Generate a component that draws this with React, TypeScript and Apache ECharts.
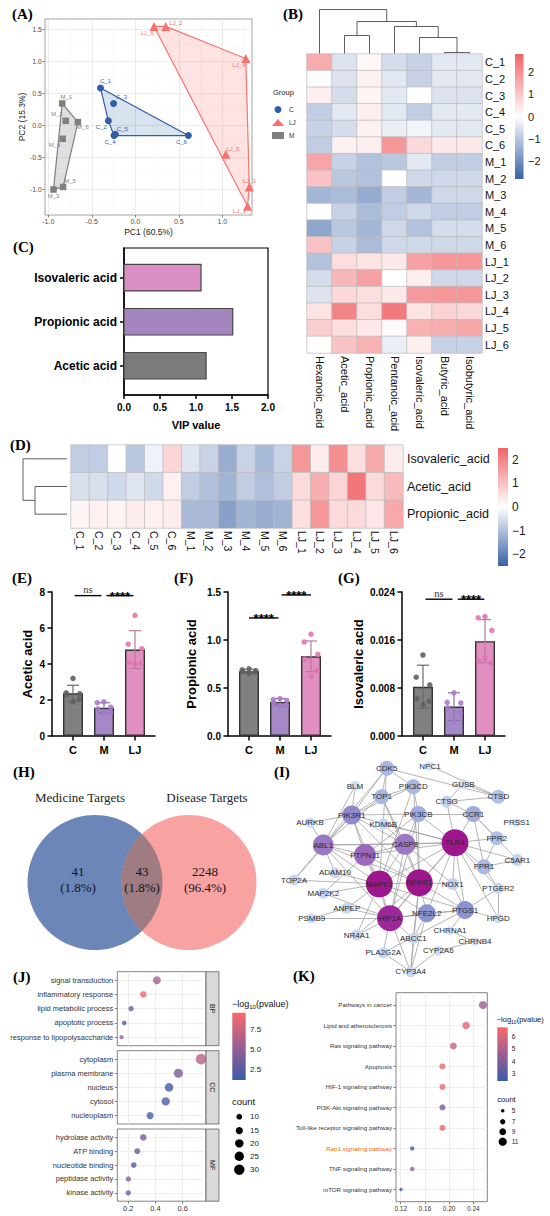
import React, { useEffect, useRef } from 'react';
import * as echarts from 'echarts';

const FONT = 'Liberation Sans';
const SERIF = 'Liberation Serif';

/* ---------------- (A) PCA scores ---------------- */
const pcaNamesC = ['C_1', 'C_2', 'C_3', 'C_4', 'C_5', 'C_6'];
const pcaPC1C = [-0.4, -0.31, -0.25, -0.245, -0.23, 0.61];
const pcaPC2C = [0.58, 0.07, 0.34, -0.16, -0.14, -0.16];
const pcaNamesLJ = ['LJ_1', 'LJ_2', 'LJ_3', 'LJ_4', 'LJ_5', 'LJ_6'];
const pcaPC1LJ = [1.29, 0.35, 1.31, 1.27, 1.04, 0.215];
const pcaPC2LJ = [-1.26, 1.54, -0.96, 1.04, -0.45, 1.54];
const pcaNamesM = ['M_1', 'M_2', 'M_3', 'M_4', 'M_5', 'M_6'];
const pcaPC1M = [-0.84, -0.8, -0.94, -0.835, -0.83, -0.66];
const pcaPC2M = [0.34, 0.07, -1.0, -0.21, -0.96, 0.05];
const hullC = [0, 5, 3, 1];
const hullLJ = [5, 1, 3, 2, 0];
const hullM = [0, 5, 4, 2];
const pcaXTicks = [-1, -0.5, 0, 0.5, 1];
const pcaYTicks = [-1, -0.5, 0, 0.5, 1, 1.5];
const pcaXMinor = [-0.75, -0.25, 0.25, 0.75, 1.25];
const pcaYMinor = [-1.25, -0.75, -0.25, 0.25, 0.75, 1.25];

/* ---------------- (B)/(D) SCFA z-scores ---------------- */
const samples = ['C_1', 'C_2', 'C_3', 'C_4', 'C_5', 'C_6', 'M_1', 'M_2', 'M_3', 'M_4', 'M_5', 'M_6', 'LJ_1', 'LJ_2', 'LJ_3', 'LJ_4', 'LJ_5', 'LJ_6'];
const acidCols = ['Hexanoic_acid', 'Acetic_acid', 'Propionic_acid', 'Pentanoic_acid', 'Isovaleric_acid', 'Butyric_acid', 'Isobutyric_acid'];
const zHexanoic = [1.5, -0.05, 0.3, -0.9, -0.8, -0.9, 1.6, 1.1, -1.3, 0.0, -1.6, 1.1, -1.1, -0.6, -0.5, 0.5, 0.9, 0.05];
const zAcetic = [-0.5, -0.5, -0.6, -0.4, -0.6, 0.25, -0.8, -1.0, -1.2, -0.8, -1.0, -0.8, 0.6, 1.3, 0.7, 2.2, 0.6, 1.1];
const zPropionic = [0.15, 0.25, 0.2, 0.3, 0.25, 0.3, -1.1, -1.1, -1.5, -1.2, -1.3, -1.2, 0.5, 1.7, 0.6, 0.6, 0.4, 1.4];
const zPentanoic = [-0.6, -0.4, -0.4, -0.4, -0.3, 1.9, -1.0, 0.0, -0.9, -0.9, -0.7, -0.7, 0.4, 0.0, 0.4, 2.4, 0.1, -0.3];
const zIsovaleric = [-0.8, -0.8, 0.0, -0.9, -0.2, 0.7, -0.4, -0.7, -1.3, -0.7, -1.1, -0.7, 1.7, 0.3, 1.8, 0.5, 1.4, 0.3];
const zButyric = [-0.4, -0.4, -0.5, -0.4, -0.4, 0.4, -0.9, -0.7, -0.7, -0.9, -0.6, -0.7, 1.9, -0.7, 1.9, 0.8, 1.5, -0.8];
const zIsobutyric = [-0.4, -0.4, -0.5, -0.4, -0.4, 0.4, -0.9, -0.7, -0.7, -0.9, -0.6, -0.7, 1.9, -0.7, 1.9, 0.7, 1.6, -0.8];
const bMerges = [[5, 6, 0.2], [4, -1, 3.2], [3, -2, 5.4], [1, 2, 3.6], [-4, -3, 6.4], [0, -5, 8.8]];
const dRowNames = ['Isovaleric_acid', 'Acetic_acid', 'Propionic_acid'];
const dMerges = [[1, 2, 6.4], [0, -1, 8.8]];
const bBarTicks = [2, 1, 0, -1, -2];

/* ---------------- (C) VIP ---------------- */
const vipNames = ['Acetic acid', 'Propionic acid', 'Isovaleric acid'];
const vipValues = [1.14, 1.51, 1.07];

/* ---------------- (E)(F)(G) ---------------- */
const groupNames = ['C', 'M', 'LJ'];
const aceMean = [2.37, 1.57, 4.8];
const aceSD = [0.45, 0.28, 1.05];
const acePts = [[3.2, 2.4, 2.35, 2.3, 2.05, 1.9], [1.9, 1.85, 1.6, 1.5, 1.3, 1.25], [6.7, 5.1, 4.85, 4.1, 4.05, 4.0]];
const aceSig = [[0.05, 0.92, 7.8, 'ns'], [1.08, 1.95, 7.8, '****']];
const proMean = [0.675, 0.355, 0.83];
const proSD = [0.02, 0.035, 0.16];
const proPts = [[0.7, 0.69, 0.68, 0.67, 0.665, 0.65], [0.39, 0.38, 0.37, 0.35, 0.32, 0.31], [1.06, 0.98, 0.85, 0.8, 0.68, 0.62]];
const proSig = [[0.0, 0.95, 1.23, '****'], [1.05, 2.0, 1.47, '****']];
const isoMean = [0.0082, 0.0049, 0.0158];
const isoSD = [0.0036, 0.0023, 0.0036];
const isoPts = [[0.0135, 0.0098, 0.0085, 0.0062, 0.0058, 0.0052], [0.0072, 0.0056, 0.0055, 0.0047, 0.0038, 0.0024], [0.0199, 0.0197, 0.0176, 0.0125, 0.0122, 0.013]];
const isoSig = [[0.08, 0.95, 0.0228, 'ns'], [1.12, 1.98, 0.0228, '****']];

/* ---------------- (H) Venn ---------------- */
const vennSets = ['Medicine Targets', 'Disease Targets'];
const vennCounts = [41, 43, 2248];
const vennPercents = ['1.8%', '1.8%', '96.4%'];

/* ---------------- (I) PPI network ---------------- */
const netNodes = ['CDK5', 'NPC1', 'BLM', 'PIK3CD', 'GUSB', 'TOP1', 'CTSG', 'CTSD', 'PIK3R1', 'PIK3CB', 'AURKB', 'KDM6B', 'CCR1', 'PRSS1', 'ABL1', 'CASP8', 'TLR4', 'FPR2', 'PTPN11', 'C5AR1', 'FPR1', 'ADAM10', 'TOP2A', 'MAPK1', 'NFKB1', 'NOX1', 'PTGER2', 'MAP2K2', 'ANPEP', 'HIF1A', 'NFE2L2', 'PTGS1', 'HPGD', 'PSMB9', 'NR4A1', 'ABCC1', 'CHRNA1', 'CHRNB4', 'PLA2G2A', 'CYP2A6', 'CYP3A4'];
const netX = [386.7, 430, 355, 413.3, 463.3, 381.7, 446.7, 498.3, 351.7, 418.3, 310, 383.3, 473.3, 516.7, 323.3, 405, 455, 496.7, 365, 517.3, 484, 335, 294, 379.3, 419.3, 452.7, 498.3, 323.3, 346.7, 390, 426.7, 465, 498.3, 311.7, 356.7, 413.3, 450, 475, 383.3, 438.3, 410.7];
const netY = [768.3, 766, 786, 786.7, 784, 796.7, 801.7, 796.7, 815, 814, 822.7, 824, 814, 822.7, 845, 844.3, 842.7, 838.3, 855, 860, 866.7, 872.7, 880, 884, 882.7, 884, 888.3, 893.3, 908.3, 918.3, 913.3, 910, 918.3, 918.3, 935, 938.3, 930.7, 941.7, 952.7, 950.7, 971.7];
const netDegree = [8, 2, 3, 8, 3, 8, 5, 7, 12, 9, 3, 4, 9, 2, 14, 14, 20, 7, 15, 5, 8, 4, 4, 20, 20, 5, 4, 4, 4, 19, 11, 11, 3, 3, 4, 4, 2, 2, 4, 3, 4];
const netEdges = [
  ['TLR4', 'NFKB1'], ['TLR4', 'MAPK1'], ['TLR4', 'HIF1A'], ['TLR4', 'CASP8'], ['TLR4', 'PTPN11'], ['TLR4', 'ABL1'], ['TLR4', 'CCR1'], ['TLR4', 'FPR1'], ['TLR4', 'FPR2'], ['TLR4', 'C5AR1'], ['TLR4', 'CTSG'], ['TLR4', 'NOX1'], ['TLR4', 'PTGS1'], ['TLR4', 'PTGER2'], ['TLR4', 'NFE2L2'], ['TLR4', 'PIK3CB'], ['TLR4', 'PIK3R1'], ['TLR4', 'HPGD'], ['TLR4', 'KDM6B'],
  ['NFKB1', 'MAPK1'], ['NFKB1', 'HIF1A'], ['NFKB1', 'CASP8'], ['NFKB1', 'PTPN11'], ['NFKB1', 'ABL1'], ['NFKB1', 'PIK3R1'], ['NFKB1', 'PIK3CB'], ['NFKB1', 'NFE2L2'], ['NFKB1', 'PTGS1'], ['NFKB1', 'NOX1'], ['NFKB1', 'TOP1'], ['NFKB1', 'ABCC1'], ['NFKB1', 'NR4A1'], ['NFKB1', 'CYP3A4'], ['NFKB1', 'PIK3CD'],
  ['MAPK1', 'HIF1A'], ['MAPK1', 'ABL1'], ['MAPK1', 'PTPN11'], ['MAPK1', 'CASP8'], ['MAPK1', 'PIK3R1'], ['MAPK1', 'PIK3CD'], ['MAPK1', 'MAP2K2'], ['MAPK1', 'CDK5'], ['MAPK1', 'TOP2A'], ['MAPK1', 'ADAM10'], ['MAPK1', 'NR4A1'], ['MAPK1', 'NFE2L2'], ['MAPK1', 'PTGS1'], ['MAPK1', 'ANPEP'],
  ['HIF1A', 'ABL1'], ['HIF1A', 'PTPN11'], ['HIF1A', 'CASP8'], ['HIF1A', 'NFE2L2'], ['HIF1A', 'PTGS1'], ['HIF1A', 'ANPEP'], ['HIF1A', 'NR4A1'], ['HIF1A', 'PLA2G2A'], ['HIF1A', 'CYP3A4'], ['HIF1A', 'ABCC1'], ['HIF1A', 'PSMB9'], ['HIF1A', 'MAP2K2'], ['HIF1A', 'PIK3CB'],
  ['ABL1', 'PIK3R1'], ['ABL1', 'PTPN11'], ['ABL1', 'CASP8'], ['ABL1', 'AURKB'], ['ABL1', 'TOP2A'], ['ABL1', 'TOP1'], ['ABL1', 'CDK5'], ['ABL1', 'ADAM10'], ['ABL1', 'BLM'],
  ['PTPN11', 'PIK3R1'], ['PTPN11', 'PIK3CB'], ['PTPN11', 'CASP8'], ['PTPN11', 'MAP2K2'],
  ['CASP8', 'PIK3CB'], ['CASP8', 'PIK3R1'], ['CASP8', 'TOP1'], ['CASP8', 'KDM6B'], ['CASP8', 'NOX1'],
  ['PIK3R1', 'PIK3CD'], ['PIK3R1', 'PIK3CB'], ['PIK3R1', 'TOP1'], ['PIK3R1', 'BLM'], ['PIK3R1', 'AURKB'], ['PIK3R1', 'CDK5'], ['PIK3R1', 'TOP2A'],
  ['PIK3CB', 'PIK3CD'], ['PIK3CB', 'CCR1'], ['CCR1', 'FPR1'], ['CCR1', 'FPR2'], ['CCR1', 'CTSG'], ['CCR1', 'C5AR1'],
  ['FPR1', 'FPR2'], ['FPR1', 'C5AR1'], ['FPR1', 'PTGER2'], ['CTSD', 'GUSB'], ['CTSD', 'CTSG'], ['CTSD', 'NPC1'], ['CTSD', 'CDK5'], ['GUSB', 'CTSG'],
  ['PTGS1', 'PTGER2'], ['PTGS1', 'HPGD'], ['PTGS1', 'NFE2L2'], ['PTGS1', 'PLA2G2A'], ['PTGS1', 'CHRNA1'], ['NFE2L2', 'ABCC1'], ['NFE2L2', 'CYP3A4'],
  ['CYP3A4', 'ABCC1'], ['CYP3A4', 'PLA2G2A'], ['CYP3A4', 'CYP2A6'], ['CYP2A6', 'CHRNB4'], ['CHRNA1', 'CHRNB4'],
  ['PSMB9', 'ANPEP'], ['CDK5', 'TOP1'], ['CDK5', 'PIK3CD'], ['PTGER2', 'HPGD'], ['TOP1', 'PIK3CD'], ['NOX1', 'PTGS1'],
];

/* ---------------- (J) GO ---------------- */
const goBP = ['signal transduction', 'inflammatory response', 'lipid metabolic process', 'apoptotic process', 'response to lipopolysaccharide'];
const goBPRatio = [0.41, 0.31, 0.22, 0.17, 0.15];
const goBPLogP = [5.8, 9.2, 3.7, 2.1, 5.4];
const goBPCount = [18, 13, 9, 7, 6];
const goCC = ['cytoplasm', 'plasma membrane', 'nucleus', 'cytosol', 'nucleoplasm'];
const goCCRatio = [0.735, 0.568, 0.499, 0.475, 0.36];
const goCCLogP = [6.9, 4.1, 1.5, 2.1, 1.6];
const goCCCount = [32, 24, 21, 20, 15];
const goMF = ['hydrolase activity', 'ATP binding', 'nucleotide binding', 'peptidase activity', 'kinase activity'];
const goMFRatio = [0.31, 0.266, 0.24, 0.2, 0.2];
const goMFLogP = [4.0, 3.4, 2.2, 4.5, 3.8];
const goMFCount = [13, 11, 10, 9, 9];
const goCountLegend = [10, 15, 20, 25, 30];
const goBarTicks = [7.5, 5.0, 2.5];

/* ---------------- (K) KEGG ---------------- */
const keggNames = ['Pathways in cancer', 'Lipid and atherosclerosis', 'Ras signaling pathway', 'Apoptosis', 'HIF-1 signaling pathway', 'PI3K-Akt signaling pathway', 'Toll-like receptor signaling pathway', 'Rap1 signaling pathway', 'TNF signaling pathway', 'mTOR signaling pathway'];
const keggRatio = [0.256, 0.228, 0.207, 0.189, 0.189, 0.189, 0.189, 0.139, 0.139, 0.1205];
const keggLogP = [4.6, 6.2, 5.5, 6.4, 6.4, 3.6, 6.3, 2.7, 4.4, 2.5];
const keggCount = [11, 10, 9, 8, 8, 8, 8, 6, 6, 5];
const keggHighlight = 'Rap1 signaling pathway';
const keggCountLegend = [5, 7, 9, 11];
const keggBarTicks = [6, 5, 4, 3];

/* ---------------- styles ---------------- */
const HM_LOW = '#3A62A6';
const HM_HIGH = '#F06468';
const GO_COLORS = ['#3B5CA8', '#9A5E92', '#F8696B'];
const NET_COLORS = ['#D6E4F7', '#C2D2EF', '#A9B8E2', '#8B93D0', '#9A78C3', '#9A4AAE', '#9E168E'];
const NO_ZERO = { onZero: false };

const VENN = { cx1: 95, cx2: 189, cy: 882.5, r: 67.5 };
const vennMidX = (VENN.cx1 + VENN.cx2) / 2;
const vennHalf = Math.sqrt(VENN.r * VENN.r - ((VENN.cx2 - VENN.cx1) / 2) ** 2);
const lensD = `M ${vennMidX} ${VENN.cy - vennHalf} A ${VENN.r} ${VENN.r} 0 0 1 ${vennMidX} ${VENN.cy + vennHalf} A ${VENN.r} ${VENN.r} 0 0 1 ${vennMidX} ${VENN.cy - vennHalf} Z`;
echarts.graphic.registerShape('vennLens', echarts.graphic.extendPath(lensD, {}));

const hexA = (hex: string, a: number) => {
  const h = hex.replace('#', '');
  return `rgba(${parseInt(h.slice(0, 2), 16)},${parseInt(h.slice(2, 4), 16)},${parseInt(h.slice(4, 6), 16)},${a})`;
};
const sizeGO = (c: number) => 2 * Math.sqrt(c) - 0.6;
const sizeKEGG = (c: number) => 4.35 * Math.sqrt(c) - 6.2;
const sizeNet = (d: number) => 9 + (d - 2) * 1.0;
const minus = (s: string) => s.replace('-', '\u2212');

function buildOption() {
  const grid: any[] = [];
  const xAxis: any[] = [];
  const yAxis: any[] = [];
  const series: any[] = [];
  const visualMap: any[] = [];
  const graphic: any[] = [];
  const addGrid = (g: any) => { grid.push(g); return grid.length - 1; };
  const addX = (a: any) => { xAxis.push(a); return xAxis.length - 1; };
  const addY = (a: any) => { yAxis.push(a); return yAxis.length - 1; };
  const addS = (s: any) => { series.push(s); return series.length - 1; };
  const txt = (x: number, y: number, text: string, o: any = {}) => {
    const { align = 'left', valign = 'top', rotation = 0, z = 50, ...rest } = o;
    graphic.push({
      type: 'text', x, y, rotation, silent: true, z,
      style: { text, fill: '#000', fontSize: 10, fontFamily: FONT, textAlign: align, align, textVerticalAlign: valign, verticalAlign: valign, ...rest },
    });
  };
  const line = (x1: number, y1: number, x2: number, y2: number, stroke = '#4d4d4d', lw = 0.9) => {
    graphic.push({ type: 'line', silent: true, z: 40, shape: { x1, y1, x2, y2 }, style: { stroke, lineWidth: lw } });
  };
  const colorbar = (x: number, y: number, w: number, h: number, colors: string[], min: number, max: number, ticks: number[], fmt: (v: number) => string, lx: number, fs: number) => {
    const stops = colors.slice().reverse().map((c, i, arr) => ({ offset: i / (arr.length - 1), color: c }));
    graphic.push({ type: 'rect', silent: true, z: 40, shape: { x, y, width: w, height: h }, style: { fill: { type: 'linear', x: 0, y: 0, x2: 0, y2: 1, colorStops: stops } } });
    ticks.forEach((t) => txt(lx, y + ((max - t) / (max - min)) * h, fmt(t), { valign: 'middle', fontSize: fs, fill: '#1a1a1a' }));
  };

  /* ---- panel tags ---- */
  const tags: [string, number, number][] = [['(A)', 12, 6], ['(B)', 283, 6], ['(C)', 13, 239], ['(D)', 10, 437], ['(E)', 12, 570], ['(F)', 174, 570], ['(G)', 338, 570], ['(H)', 13, 764], ['(I)', 274, 764], ['(J)', 13, 969], ['(K)', 293, 968]];
  tags.forEach(([t, x, y]) => txt(x, y, t, { fontSize: 15, fontWeight: 'bold', fontFamily: SERIF }));

  /* ---- (A) PCA ---- */
  const gA = addGrid({ left: 45, top: 19, width: 207, height: 196, show: true, borderColor: '#8c8c8c', borderWidth: 0.8, backgroundColor: '#fff' });
  const xA = addX({
    gridIndex: gA, type: 'value', min: -1.038, max: 1.341, position: 'bottom',
    axisLine: { show: false, ...NO_ZERO },
    axisTick: { show: true, customValues: pcaXTicks, length: 2.5, lineStyle: { color: '#444', width: 0.6 } },
    axisLabel: { customValues: pcaXTicks, formatter: (v: number) => v.toFixed(1), fontSize: 7, color: '#4d4d4d', margin: 3 },
    splitLine: { show: true, lineStyle: { color: '#e2e2e2', width: 0.7 } },
    name: 'PC1 (60.5%)', nameLocation: 'middle', nameGap: 12, nameTextStyle: { fontSize: 8.5, color: '#1a1a1a' },
  });
  addX({
    gridIndex: gA, type: 'value', min: -1.038, max: 1.341, position: 'top',
    axisLine: { show: false, ...NO_ZERO }, axisTick: { show: false, customValues: pcaXMinor }, axisLabel: { show: false, customValues: pcaXMinor },
    splitLine: { show: true, lineStyle: { color: '#f0f0f0', width: 0.4 } },
  });
  const yA = addY({
    gridIndex: gA, type: 'value', min: -1.397, max: 1.656,
    axisLine: { show: false, ...NO_ZERO },
    axisTick: { show: true, customValues: pcaYTicks, length: 2.5, lineStyle: { color: '#444', width: 0.6 } },
    axisLabel: { customValues: pcaYTicks, formatter: (v: number) => v.toFixed(1), fontSize: 7, color: '#4d4d4d', margin: 3 },
    splitLine: { show: true, lineStyle: { color: '#e2e2e2', width: 0.7 } },
    name: 'PC2 (15.3%)', nameLocation: 'middle', nameGap: 19, nameRotate: 90, nameTextStyle: { fontSize: 8.5, color: '#1a1a1a' },
  });
  addY({
    gridIndex: gA, type: 'value', min: -1.397, max: 1.656, position: 'right',
    axisLine: { show: false, ...NO_ZERO }, axisTick: { show: false, customValues: pcaYMinor }, axisLabel: { show: false, customValues: pcaYMinor },
    splitLine: { show: true, lineStyle: { color: '#f0f0f0', width: 0.4 } },
  });
  const pcaGroups = [
    { name: 'C', xs: pcaPC1C, ys: pcaPC2C, names: pcaNamesC, hull: hullC, color: '#2F5DA6', symbol: 'circle', size: 7, off: [[5, -7], [-7, 6], [8, -6], [-4, 6], [7, -5], [-7, 6]], fill: 0.18 },
    { name: 'LJ', xs: pcaPC1LJ, ys: pcaPC2LJ, names: pcaNamesLJ, hull: hullLJ, color: '#F8716F', symbol: 'triangle', size: 9, off: [[-8, 5], [10, -3], [0, -6], [-7, 6], [7, -5], [-7, 7]], fill: 0.2 },
    { name: 'M', xs: pcaPC1M, ys: pcaPC2M, names: pcaNamesM, hull: hullM, color: '#7F7F7F', symbol: 'rect', size: 6.5, off: [[4, -6], [-9, -7], [0, 6], [-8, 6], [7, -6], [5, 5]], fill: 0.25 },
  ];
  pcaGroups.forEach((g) => {
    const pts = g.hull.map((i) => [g.xs[i], g.ys[i]]);
    addS({
      type: 'custom', name: 'hull' + g.name, xAxisIndex: xA, yAxisIndex: yA, silent: true, z: 1,
      data: [pts[0]],
      renderItem: (_p: any, api: any) => ({
        type: 'polygon', shape: { points: pts.map((p) => api.coord(p)) },
        style: { fill: hexA(g.color, g.fill), stroke: g.color, lineWidth: 1.2 },
      }),
    });
  });
  pcaGroups.forEach((g) => {
    addS({
      type: 'scatter', name: g.name, xAxisIndex: xA, yAxisIndex: yA, z: 3, silent: true,
      symbol: g.symbol, symbolSize: g.size, itemStyle: { color: g.color, opacity: 1 },
      label: { show: true, position: 'inside', formatter: '{b}', fontSize: 6, color: g.color },
      data: g.xs.map((x, i) => ({ name: g.names[i], value: [x, g.ys[i]], label: { offset: g.off[i] } })),
    });
  });
  txt(273, 92, 'Group', { fontSize: 7.5, fill: '#222', valign: 'middle' });

  /* ---- (B) heatmap ---- */
  const bColsData = [zHexanoic, zAcetic, zPropionic, zPentanoic, zIsovaleric, zButyric, zIsobutyric];
  const gB = addGrid({ left: 307, top: 54, width: 175, height: 299 });
  const xB = addX({ gridIndex: gB, type: 'category', data: acidCols, position: 'bottom', axisLine: { show: false, ...NO_ZERO }, axisTick: { show: false }, splitLine: { show: false }, axisLabel: { rotate: -90, fontSize: 11, color: '#111', margin: 3, interval: 0 } });
  const yB = addY({ gridIndex: gB, type: 'category', data: samples, inverse: true, position: 'right', axisLine: { show: false, ...NO_ZERO }, axisTick: { show: false }, splitLine: { show: false }, axisLabel: { fontSize: 11, color: '#111', margin: 3, interval: 0 } });
  const bData: number[][] = [];
  bColsData.forEach((col, c) => col.forEach((v, r) => bData.push([c, r, v])));
  const sB = addS({ type: 'heatmap', xAxisIndex: xB, yAxisIndex: yB, data: bData, silent: true, itemStyle: { borderColor: '#bcbcbc', borderWidth: 0.7 }, emphasis: { disabled: true } });
  visualMap.push({ type: 'continuous', show: false, seriesIndex: sB, dimension: 2, min: -2.8, max: 2.8, inRange: { color: [HM_LOW, '#ffffff', HM_HIGH] } });
  colorbar(515, 54, 8.5, 125, [HM_LOW, '#ffffff', HM_HIGH], -2.8, 2.8, bBarTicks, (v) => minus(String(v)), 528, 11);
  {
    const leafX = (i: number) => 307 + 25 * (i + 0.5);
    const base = 53.5;
    const pos: { x: number; y: number }[] = [];
    const get = (k: number) => (k >= 0 ? { x: leafX(k), y: base } : pos[-k - 1]);
    bMerges.forEach(([a, b, h]) => {
      const A = get(a), B = get(b);
      const y = base - h * 5;
      line(A.x, A.y, A.x, y); line(B.x, B.y, B.x, y); line(A.x, y, B.x, y);
      pos.push({ x: (A.x + B.x) / 2, y });
    });
  }

  /* ---- (C) VIP bars ---- */
  const gC = addGrid({ left: 124, top: 248, width: 144, height: 147, show: true, borderColor: '#000', borderWidth: 1.2 });
  const xC = addX({
    gridIndex: gC, type: 'value', min: 0, max: 2, interval: 0.5,
    axisLine: { show: true, lineStyle: { color: '#000', width: 1.5 }, ...NO_ZERO },
    axisTick: { show: true, length: 4, lineStyle: { color: '#000', width: 1.5 } },
    axisLabel: { formatter: (v: number) => v.toFixed(1), fontSize: 10, fontWeight: 'bold', color: '#000', margin: 7 },
    splitLine: { show: false },
    name: 'VIP value', nameLocation: 'middle', nameGap: 24, nameTextStyle: { fontSize: 11, fontWeight: 'bold', color: '#000' },
  });
  const yC = addY({
    gridIndex: gC, type: 'value', min: -0.664, max: 2.675,
    axisLine: { show: true, lineStyle: { color: '#000', width: 1.5 }, ...NO_ZERO },
    axisTick: { show: true, customValues: [0, 1, 2], length: 4, lineStyle: { color: '#000', width: 1.5 } },
    axisLabel: { customValues: [0, 1, 2], formatter: (v: number) => vipNames[Math.round(v)], fontSize: 12, fontWeight: 'bold', color: '#000', margin: 7 },
    splitLine: { show: false },
  });
  const vipColors = ['#7B7B7B', '#A486BE', '#D98FC3'];
  addS({
    type: 'custom', xAxisIndex: xC, yAxisIndex: yC, silent: true, z: 2,
    data: vipValues.map((v, i) => [v, i]),
    renderItem: (params: any, api: any) => {
      const v = api.value(0), c = api.value(1);
      const p0 = api.coord([0, c]), p1 = api.coord([v, c]);
      const h = 26.5;
      return { type: 'rect', shape: { x: p0[0], y: p0[1] - h / 2, width: p1[0] - p0[0], height: h }, style: { fill: vipColors[params.dataIndex], stroke: '#474747', lineWidth: 1.2 } };
    },
  });

  /* ---- (D) heatmap ---- */
  const dRowsData = [zIsovaleric, zAcetic, zPropionic];
  const gD = addGrid({ left: 71, top: 445, width: 332, height: 83 });
  const xD = addX({ gridIndex: gD, type: 'category', data: samples, position: 'bottom', axisLine: { show: false, ...NO_ZERO }, axisTick: { show: false }, splitLine: { show: false }, axisLabel: { rotate: -90, fontSize: 10.5, color: '#111', margin: 3, interval: 0 } });
  const yD = addY({ gridIndex: gD, type: 'category', data: dRowNames, inverse: true, position: 'right', axisLine: { show: false, ...NO_ZERO }, axisTick: { show: false }, splitLine: { show: false }, axisLabel: { fontSize: 12.5, color: '#111', margin: 4, interval: 0 } });
  const dData: number[][] = [];
  dRowsData.forEach((row, r) => row.forEach((v, c) => dData.push([c, r, v])));
  const sD = addS({ type: 'heatmap', xAxisIndex: xD, yAxisIndex: yD, data: dData, silent: true, itemStyle: { borderColor: '#bcbcbc', borderWidth: 0.7 }, emphasis: { disabled: true } });
  visualMap.push({ type: 'continuous', show: false, seriesIndex: sD, dimension: 2, min: -2.5, max: 2.5, inRange: { color: [HM_LOW, '#ffffff', HM_HIGH] } });
  colorbar(498, 448, 10, 118, [HM_LOW, '#ffffff', HM_HIGH], -2.5, 2.5, bBarTicks, (v) => minus(String(v)), 512, 12);
  {
    const rowH = 83 / 3;
    const leafY = (i: number) => 445 + rowH * (i + 0.5);
    const base = 67;
    const pos: { x: number; y: number }[] = [];
    const get = (k: number) => (k >= 0 ? { x: base, y: leafY(k) } : pos[-k - 1]);
    dMerges.forEach(([a, b, h]) => {
      const A = get(a), B = get(b);
      const x = base - h * 5;
      line(A.x, A.y, x, A.y); line(B.x, B.y, x, B.y); line(x, A.y, x, B.y);
      pos.push({ x, y: (A.y + B.y) / 2 });
    });
  }

  /* ---- (E)(F)(G) bar + dot plots ---- */
  const barColors = ['#808080', '#A589C6', '#E08FC0'];
  const dotColors = ['#5f5f5f', '#A57ACB', '#DE73B0'];
  const errColors = ['#6a6a6a', '#8a70aa', '#b87a9c'];
  const jitter = [0, -0.22, 0.22, -0.2, 0.2, 0];
  const panels = [
    { x0: 52, title: 'Acetic acid', max: 8, interval: 2, dec: 0, means: aceMean, sds: aceSD, pts: acePts, sigs: aceSig, gap: 18 },
    { x0: 228, title: 'Propionic acid', max: 1.5, interval: 0.5, dec: 1, means: proMean, sds: proSD, pts: proPts, sigs: proSig, gap: 30 },
    { x0: 402, title: 'Isovaleric acid', max: 0.024, interval: 0.008, dec: 3, means: isoMean, sds: isoSD, pts: isoPts, sigs: isoSig, gap: 37.5 },
  ];
  panels.forEach((p) => {
    const g = addGrid({ left: p.x0, top: 592, width: 103, height: 144 });
    const xi = addX({
      gridIndex: g, type: 'value', min: -0.677, max: 2.645,
      axisLine: { show: true, lineStyle: { color: '#000', width: 1.5 }, ...NO_ZERO },
      axisTick: { show: true, customValues: [0, 1, 2], length: 4.5, lineStyle: { color: '#000', width: 1.5 } },
      axisLabel: { customValues: [0, 1, 2], formatter: (v: number) => groupNames[Math.round(v)], fontSize: 11, fontWeight: 'bold', color: '#000', margin: 8 },
      splitLine: { show: false },
    });
    const yi = addY({
      gridIndex: g, type: 'value', min: 0, max: p.max, interval: p.interval,
      axisLine: { show: true, lineStyle: { color: '#000', width: 1.5 }, ...NO_ZERO },
      axisTick: { show: true, length: 4.5, lineStyle: { color: '#000', width: 1.5 } },
      axisLabel: { formatter: (v: number) => v.toFixed(p.dec), fontSize: 10, fontWeight: 'bold', color: '#000', margin: 7 },
      splitLine: { show: false },
      name: p.title, nameLocation: 'middle', nameGap: p.gap, nameRotate: 90, nameTextStyle: { fontSize: 13, fontWeight: 'bold', color: '#000' },
    });
    addS({
      type: 'bar', xAxisIndex: xi, yAxisIndex: yi, barWidth: 20, silent: true, z: 2,
      data: p.means.map((m, i) => ({ value: [i, m], itemStyle: { color: barColors[i], borderColor: '#333', borderWidth: 1.4 } })),
    });
    addS({
      type: 'custom', xAxisIndex: xi, yAxisIndex: yi, silent: true, z: 3,
      data: p.means.map((m, i) => [i, m, p.sds[i]]),
      renderItem: (params: any, api: any) => {
        const x = api.value(0), m = api.value(1), s = api.value(2);
        const t = api.coord([x, m + s]), b = api.coord([x, m - s]);
        const st = { stroke: errColors[params.dataIndex], lineWidth: 1.2 };
        return {
          type: 'group', children: [
            { type: 'line', shape: { x1: t[0], y1: t[1], x2: b[0], y2: b[1] }, style: st },
            { type: 'line', shape: { x1: t[0] - 6, y1: t[1], x2: t[0] + 6, y2: t[1] }, style: st },
            { type: 'line', shape: { x1: b[0] - 6, y1: b[1], x2: b[0] + 6, y2: b[1] }, style: st },
          ],
        };
      },
    });
    const dots: any[] = [];
    p.pts.forEach((arr, gi) => arr.forEach((v, k) => dots.push({ value: [gi + jitter[k], v], itemStyle: { color: dotColors[gi], opacity: 0.88 } })));
    addS({ type: 'scatter', xAxisIndex: xi, yAxisIndex: yi, silent: true, z: 4, symbolSize: 5.5, data: dots });
    const sigs = p.sigs;
    addS({
      type: 'custom', xAxisIndex: xi, yAxisIndex: yi, silent: true, z: 5,
      data: sigs.map((s) => [s[0], s[1], s[2]]),
      renderItem: (params: any, api: any) => {
        const a = api.coord([api.value(0), api.value(2)]);
        const b = api.coord([api.value(1), api.value(2)]);
        const label = sigs[params.dataIndex][3] as string;
        const isNs = label === 'ns';
        return {
          type: 'group', children: [
            { type: 'line', shape: { x1: a[0], y1: a[1], x2: b[0], y2: b[1] }, style: { stroke: '#000', lineWidth: 1.4 } },
            {
              type: 'text', style: {
                text: label, x: (a[0] + b[0]) / 2, y: isNs ? a[1] - 0.5 : a[1] + 0.5,
                textAlign: 'center', align: 'center', textVerticalAlign: isNs ? 'bottom' : 'middle', verticalAlign: isNs ? 'bottom' : 'middle',
                fontSize: isNs ? 10.5 : 13, fontWeight: isNs ? 'normal' : 'bold', fontFamily: isNs ? SERIF : FONT, fill: isNs ? '#333' : '#000',
              },
            },
          ],
        };
      },
    });
  });

  /* ---- (H) Venn ---- */
  graphic.push({ type: 'circle', silent: true, z: 10, shape: { cx: VENN.cx1, cy: VENN.cy, r: VENN.r }, style: { fill: '#6C86B8' } });
  graphic.push({ type: 'circle', silent: true, z: 10, shape: { cx: VENN.cx2, cy: VENN.cy, r: VENN.r }, style: { fill: '#F9A2A2' } });
  graphic.push({ type: 'vennLens', silent: true, z: 11, x: 0, y: 0, style: { fill: '#9F7C82' } });
  txt(80, 797, vennSets[0], { align: 'center', valign: 'middle', fontFamily: SERIF, fontSize: 13, fill: '#222' });
  txt(207, 797, vennSets[1], { align: 'center', valign: 'middle', fontFamily: SERIF, fontSize: 13, fill: '#222' });
  const vennX = [78, 142, 205];
  vennCounts.forEach((c, i) => {
    txt(vennX[i], 871, String(c), { align: 'center', valign: 'middle', fontFamily: SERIF, fontSize: 13, fill: '#151515' });
    txt(vennX[i], 887, '(' + vennPercents[i] + ')', { align: 'center', valign: 'middle', fontFamily: SERIF, fontSize: 13, fill: '#151515' });
  });

  /* ---- (I) network ---- */
  const minX = Math.min(...netX), maxX = Math.max(...netX), minY = Math.min(...netY), maxY = Math.max(...netY);
  const sNet = addS({
    type: 'graph', layout: 'none', roam: false, silent: true, z: 2,
    left: minX, top: minY, width: maxX - minX, height: maxY - minY,
    data: netNodes.map((n, i) => ({ name: n, x: netX[i], y: netY[i], value: netDegree[i], symbolSize: sizeNet(netDegree[i]) })),
    links: netEdges.map(([a, b]) => ({ source: a, target: b })),
    lineStyle: { color: '#9d9d9d', width: 0.8, opacity: 0.95, curveness: 0 },
    label: { show: true, position: 'inside', fontSize: 8, color: '#2a2a2a' },
    emphasis: { disabled: true },
  });
  visualMap.push({ type: 'continuous', show: false, seriesIndex: sNet, min: 2, max: 20, inRange: { color: NET_COLORS } });

  /* ---- (J) GO facets ---- */
  const facets = [
    { top: 971.7, height: 74, names: goBP, ratio: goBPRatio, logp: goBPLogP, count: goBPCount, strip: 'BP' },
    { top: 1050.7, height: 73.3, names: goCC, ratio: goCCRatio, logp: goCCLogP, count: goCCCount, strip: 'CC' },
    { top: 1129, height: 72.2, names: goMF, ratio: goMFRatio, logp: goMFLogP, count: goMFCount, strip: 'MF' },
  ];
  const goSeries: number[] = [];
  facets.forEach((f, fi) => {
    const g = addGrid({ left: 117.3, top: f.top, width: 88.7, height: f.height, show: true, borderColor: '#4d4d4d', borderWidth: 0.7 });
    const last = fi === facets.length - 1;
    const xi = addX({
      gridIndex: g, type: 'value', min: 0.119, max: 0.771,
      axisLine: { show: false, ...NO_ZERO },
      axisTick: { show: last, customValues: [0.2, 0.4, 0.6], length: 2.5, lineStyle: { color: '#333', width: 0.6 } },
      axisLabel: { show: last, customValues: [0.2, 0.4, 0.6], formatter: (v: number) => v.toFixed(1), fontSize: 7.5, color: '#333', margin: 3 },
      splitLine: { show: true, lineStyle: { color: '#e6e6e6', width: 0.7 } },
    });
    addX({
      gridIndex: g, type: 'value', min: 0.119, max: 0.771, position: 'top',
      axisLine: { show: false, ...NO_ZERO }, axisTick: { show: false, customValues: [0.3, 0.5, 0.7] }, axisLabel: { show: false, customValues: [0.3, 0.5, 0.7] },
      splitLine: { show: true, lineStyle: { color: '#f2f2f2', width: 0.4 } },
    });
    const yi = addY({
      gridIndex: g, type: 'value', min: 0.4, max: 5.6, inverse: true,
      axisLine: { show: false, ...NO_ZERO },
      axisTick: { show: true, customValues: [1, 2, 3, 4, 5], length: 2.5, lineStyle: { color: '#333', width: 0.6 } },
      axisLabel: { customValues: [1, 2, 3, 4, 5], formatter: (v: number) => f.names[Math.round(v) - 1], fontSize: 7.5, color: '#333', margin: 4 },
      splitLine: { show: true, lineStyle: { color: '#e6e6e6', width: 0.7 } },
    });
    goSeries.push(addS({
      type: 'scatter', xAxisIndex: xi, yAxisIndex: yi, silent: true, z: 3,
      symbolSize: (val: number[]) => sizeGO(val[3]),
      data: f.ratio.map((r, i) => [r, i + 1, f.logp[i], f.count[i]]),
    }));
    graphic.push({ type: 'rect', silent: true, z: 20, shape: { x: 206, y: f.top, width: 13, height: f.height }, style: { fill: '#d9d9d9', stroke: '#4d4d4d', lineWidth: 0.7 } });
    txt(212.5, f.top + f.height / 2, f.strip, { align: 'center', valign: 'middle', rotation: -Math.PI / 2, fontSize: 7, fill: '#1a1a1a' });
  });
  visualMap.push({ type: 'continuous', show: false, seriesIndex: goSeries, dimension: 2, min: 1.25, max: 9.66, inRange: { color: GO_COLORS } });
  graphic.push({
    type: 'text', x: 232, y: 1004, silent: true, z: 50,
    style: { text: '{a|\u2212log}{b|10}{a|(pvalue)}', fill: '#111', fontFamily: FONT, textVerticalAlign: 'middle', verticalAlign: 'middle', rich: { a: { fontSize: 9, lineHeight: 12, verticalAlign: 'middle', fontFamily: FONT }, b: { fontSize: 6, lineHeight: 12, verticalAlign: 'bottom', fontFamily: FONT } } },
  });
  colorbar(232.3, 1012.7, 13.4, 67.3, GO_COLORS, 1.25, 9.66, goBarTicks, (v) => v.toFixed(1), 250, 8);
  txt(232, 1101.7, 'count', { valign: 'middle', fontSize: 9.5, fill: '#111' });
  const goLegY = [1116.7, 1130.7, 1143.3, 1156.3, 1169.7];
  goCountLegend.forEach((c, i) => {
    graphic.push({ type: 'circle', silent: true, z: 40, shape: { cx: 239.3, cy: goLegY[i], r: sizeGO(c) / 2 }, style: { fill: '#000' } });
    txt(250, goLegY[i], String(c), { valign: 'middle', fontSize: 8, fill: '#1a1a1a' });
  });

  /* ---- (K) KEGG ---- */
  const gK = addGrid({ left: 396, top: 992.7, width: 91.3, height: 209, show: true, borderColor: '#4d4d4d', borderWidth: 0.7 });
  const kMajor = [0.12, 0.16, 0.2, 0.24];
  const kMinor = [0.14, 0.18, 0.22, 0.26];
  const xK = addX({
    gridIndex: gK, type: 'value', min: 0.1122, max: 0.2631,
    axisLine: { show: false, ...NO_ZERO },
    axisTick: { show: true, customValues: kMajor, length: 2.5, lineStyle: { color: '#333', width: 0.6 } },
    axisLabel: { customValues: kMajor, formatter: (v: number) => v.toFixed(2), fontSize: 6.5, color: '#333', margin: 3 },
    splitLine: { show: true, lineStyle: { color: '#e6e6e6', width: 0.7 } },
  });
  addX({
    gridIndex: gK, type: 'value', min: 0.1122, max: 0.2631, position: 'top',
    axisLine: { show: false, ...NO_ZERO }, axisTick: { show: false, customValues: kMinor }, axisLabel: { show: false, customValues: kMinor },
    splitLine: { show: true, lineStyle: { color: '#f2f2f2', width: 0.4 } },
  });
  const kIdx = keggNames.map((_, i) => i + 1);
  const yK = addY({
    gridIndex: gK, type: 'value', min: 0.4, max: 10.6, inverse: true,
    axisLine: { show: false, ...NO_ZERO },
    axisTick: { show: true, customValues: kIdx, length: 2.5, lineStyle: { color: '#333', width: 0.6 } },
    axisLabel: {
      customValues: kIdx, fontSize: 6.2, color: '#333', margin: 4,
      formatter: (v: number) => { const n = keggNames[Math.round(v) - 1]; return n === keggHighlight ? '{hl|' + n + '}' : n; },
      rich: { hl: { color: '#FF5F00', fontSize: 6.2 } },
    },
    splitLine: { show: true, lineStyle: { color: '#e6e6e6', width: 0.7 } },
  });
  const sK = addS({
    type: 'scatter', xAxisIndex: xK, yAxisIndex: yK, silent: true, z: 3,
    symbolSize: (val: number[]) => sizeKEGG(val[3]),
    data: keggRatio.map((r, i) => [r, i + 1, keggLogP[i], keggCount[i]]),
  });
  visualMap.push({ type: 'continuous', show: false, seriesIndex: sK, dimension: 2, min: 2.37, max: 6.77, inRange: { color: GO_COLORS } });
  graphic.push({
    type: 'text', x: 496.7, y: 1019, silent: true, z: 50,
    style: { text: '{a|\u2212log}{b|10}{a|(pvalue)}', fill: '#111', fontFamily: FONT, textVerticalAlign: 'middle', verticalAlign: 'middle', rich: { a: { fontSize: 7.5, lineHeight: 10, verticalAlign: 'middle', fontFamily: FONT }, b: { fontSize: 5, lineHeight: 10, verticalAlign: 'bottom', fontFamily: FONT } } },
  });
  colorbar(497.3, 1027.3, 10.4, 53.7, GO_COLORS, 2.37, 6.77, keggBarTicks, (v) => String(v), 511.7, 6.5);
  txt(497.3, 1099, 'count', { valign: 'middle', fontSize: 7.5, fill: '#111' });
  const kLegY = [1110.7, 1121.7, 1131.7, 1141.7];
  keggCountLegend.forEach((c, i) => {
    graphic.push({ type: 'circle', silent: true, z: 40, shape: { cx: 502.7, cy: kLegY[i], r: sizeKEGG(c) / 2 }, style: { fill: '#000' } });
    txt(511.7, kLegY[i], String(c), { valign: 'middle', fontSize: 6.5, fill: '#1a1a1a' });
  });

  return {
    animation: false,
    backgroundColor: '#ffffff',
    textStyle: { fontFamily: FONT },
    legend: {
      data: ['C', 'LJ', 'M'], orient: 'vertical', left: 272, top: 106, padding: 0,
      itemWidth: 12, itemHeight: 7, itemGap: 6, selectedMode: false,
      textStyle: { fontSize: 6.5, color: '#333', fontFamily: FONT },
    },
    grid, xAxis, yAxis, series, visualMap, graphic,
  };
}

export default function App() {
  const ref = useRef<HTMLDivElement>(null);
  useEffect(() => {
    if (!ref.current) return;
    const chart = echarts.init(ref.current, null, { renderer: 'svg' });
    chart.setOption(buildOption() as any);
    return () => chart.dispose();
  }, []);
  return <div ref={ref} style={{ position: 'absolute', left: 0, top: 0, width: 550, height: 1216, background: '#fff' }} />;
}
